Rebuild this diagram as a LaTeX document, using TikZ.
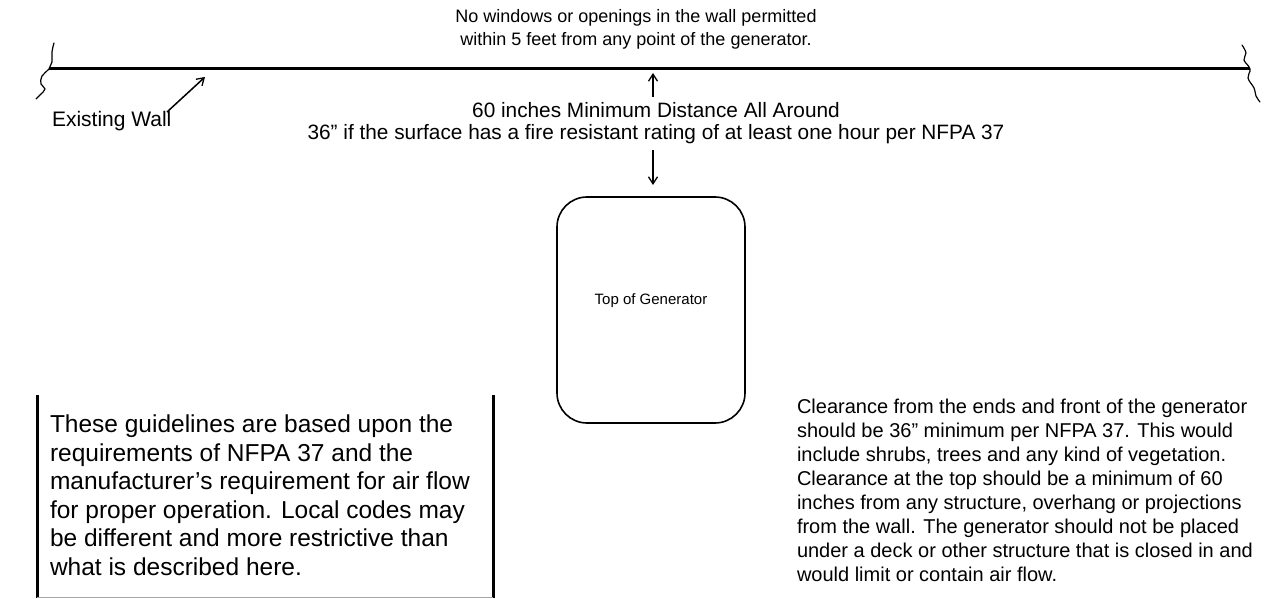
\documentclass[tikz,border=0pt]{standalone}
\usepackage{fontspec}
\setmainfont{Liberation Sans}
\usetikzlibrary{arrows.meta}
\begin{document}
\begin{tikzpicture}[x=1pt,y=-1pt,
  txt/.style={inner sep=0pt, outer sep=0pt},
  toptxt/.style={txt, align=center, font=\fontsize{18}{23}\selectfont},
  midtxt/.style={txt, align=center, font=\fontsize{20.8}{22.5}\selectfont},
  boxtxt/.style={txt, align=left, font=\fontsize{24.5}{28.5}\selectfont},
  notetxt/.style={txt, align=left, font=\fontsize{20}{24}\selectfont},
  wallline/.style={line width=3pt},
  squiggle/.style={line width=1.2pt, line cap=round},
  arr/.style={line width=1.5pt, -{Straight Barb[length=7pt,width=9pt,line width=1.3pt]}},
  genbox/.style={draw, line width=1.6pt, rounded corners=30pt, minimum width=188pt, minimum height=226pt, inner sep=0pt}
]
\useasboundingbox (0,0) rectangle (1270,599);

% texts at top (base anchor = baseline of last line)
\node[toptxt, anchor=base] (warn) at (636,46) {No windows or openings in the wall permitted\\within 5 feet from any point of the generator.};
\node[midtxt, anchor=base] (mind) at (656,140) {60 inches Minimum Distance All Around\\36” if the surface has a fire resistant rating of at least one hour per NFPA 37};
\node[txt, anchor=base west, font=\fontsize{21}{24}\selectfont] (ew) at (52,127) {Existing Wall};

% wall
\coordinate (wallL) at (49,69);
\coordinate (wallR) at (1250,69);
\draw[wallline] (wallL) -- (wallR);
\draw[squiggle] plot[smooth, tension=0.7] coordinates {(54,43) (52,52) (52,62) (49,69) (42,76) (41,84) (45,89) (40,95) (36,99)};
\draw[squiggle] plot[smooth, tension=0.7] coordinates {(1242,45) (1246,53) (1244,60) (1250,69) (1248,78) (1254,88) (1256,96) (1260,102)};

% Existing wall arrow
\coordinate (ewtip) at (205,77);
\coordinate (ewtail) at (167,112);
\draw[arr] (ewtail) -- (ewtip);

% generator
\node[genbox] (gen) at (651,310) {};
\node[txt, font=\fontsize{15}{18}\selectfont] (gentxt) at (651,301) {Top of Generator};

% clearance arrows
\coordinate (upS) at (653,97);
\coordinate (upE) at (653,73);
\coordinate (dnS) at (653,150);
\coordinate (dnE) at (653,185);
\draw[arr] (upS) -- (upE);
\draw[arr] (dnS) -- (dnE);

% guideline box
\node[boxtxt, anchor=base west] (guide) at (50,575) {These guidelines are based upon the\\requirements of NFPA 37 and the\\manufacturer’s requirement for air flow\\for proper operation. Local codes may\\be different and more restrictive than\\what is described here.};
\draw[line width=3pt] (37,395) -- (37,598);
\draw[line width=3pt] (493,395) -- (493,598);
\draw[line width=1pt, gray!70] (37,597.5) -- (493,597.5);

% note
\node[notetxt, anchor=base west] (note) at (797,581) {Clearance from the ends and front of the generator\\should be 36” minimum per NFPA 37. This would\\include shrubs, trees and any kind of vegetation.\\Clearance at the top should be a minimum of 60\\inches from any structure, overhang or projections\\from the wall. The generator should not be placed\\under a deck or other structure that is closed in and\\would limit or contain air flow.};
\end{tikzpicture}
\end{document}
